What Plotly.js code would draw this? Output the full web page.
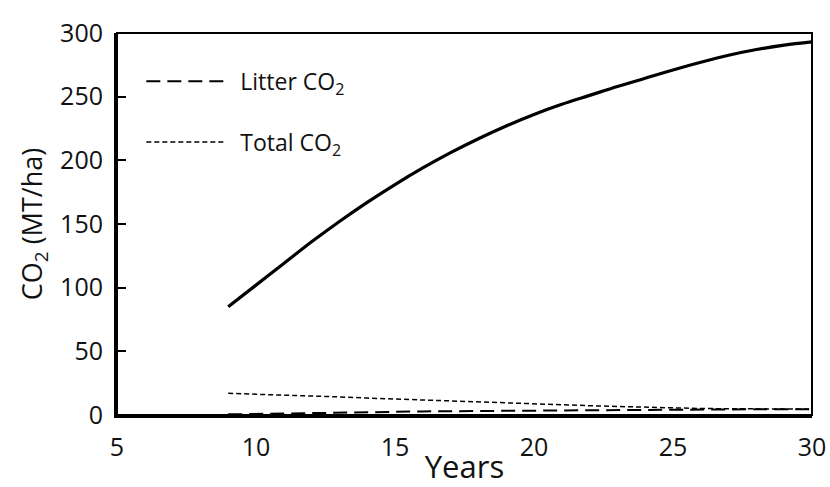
<!DOCTYPE html>
<html>
<head>
<meta charset="utf-8">
<script src="https://cdn.plot.ly/plotly-3.0.1.min.js"></script>
<style>body{margin:0;background:#fff}#chart{width:830px;height:487px}</style>
</head>
<body>
<div id="chart"></div>
<script>
// Data
const years = [9, 10, 11, 12, 13, 14, 15, 16, 17, 18, 19, 20, 21, 22, 23, 24, 25, 26, 27, 28, 29, 30];
const mainCO2 = [85, 102, 119, 136, 152, 167, 181, 194, 206, 217, 227, 236, 244, 251, 258, 264.5, 271, 277, 282.5, 287, 290.5, 293];
const litterCO2 = [0.5, 0.9, 1.2, 1.5, 1.9, 2.2, 2.5, 2.8, 3.0, 3.2, 3.4, 3.6, 3.8, 3.9, 4.0, 4.2, 4.3, 4.4, 4.4, 4.5, 4.5, 4.5];
const totalCO2 = [17, 16.4, 15.7, 15, 14.2, 13.3, 12.5, 11.7, 10.8, 10, 9.2, 8.6, 8, 7.3, 6.7, 6, 5.5, 5.1, 4.9, 4.7, 4.6, 4.6];
const xTicks = [5, 10, 15, 20, 25, 30];
const yTicks = [0, 50, 100, 150, 200, 250, 300];

const fontFam = '"Open Sans", "Noto Sans", sans-serif';

const traces = [
  {x: years, y: mainCO2, mode: 'lines', line: {color: '#000', width: 3.2, shape: 'spline'}, showlegend: false},
  {x: years, y: litterCO2, mode: 'lines', name: '\u00a0\u00a0Litter CO<sub>2</sub>', legendgroup: 'a',
   line: {color: '#000', width: 2, dash: '14px,7px'}},
  {x: years, y: totalCO2, mode: 'lines', name: '\u00a0\u00a0Total CO<sub>2</sub>', legendgroup: 'b',
   line: {color: '#000', width: 1.5, dash: '5px,3px'}}
];

const layout = {
  width: 830, height: 487,
  margin: {l: 117, r: 18, t: 33, b: 72},
  paper_bgcolor: '#fff', plot_bgcolor: '#fff',
  font: {family: fontFam, color: '#111', size: 25},
  showlegend: true,
  legend: {x: 0.035, y: 0.93, xanchor: 'left', yanchor: 'top', bgcolor: 'rgba(0,0,0,0)',
           font: {size: 23, family: fontFam}, itemwidth: 77, tracegroupgap: 28},
  xaxis: {range: [5, 30], tickvals: xTicks, ticktext: xTicks.map(String), showgrid: false, zeroline: false,
          showline: true, linecolor: '#000', linewidth: 3, ticks: '', ticklabelstandoff: 8,
          title: {text: 'Years', font: {size: 31, family: fontFam}, standoff: 6}},
  yaxis: {range: [0, 300], tickvals: yTicks, ticktext: yTicks.map(String), showgrid: false, zeroline: false,
          showline: true, linecolor: '#000', linewidth: 3, ticks: 'inside', ticklen: 9, tickwidth: 2, tickcolor: '#000',
          ticklabelstandoff: 6,
          title: {text: 'CO<sub>2</sub> (MT/ha)', font: {size: 27, family: fontFam}, standoff: 10}},
  shapes: [{type: 'rect', xref: 'paper', yref: 'paper', x0: 0, x1: 1, y0: 0, y1: 1, line: {color: '#000', width: 2}}]
};

Plotly.newPlot('chart', traces, layout, {displayModeBar: false, staticPlot: true});
</script>
</body>
</html>
